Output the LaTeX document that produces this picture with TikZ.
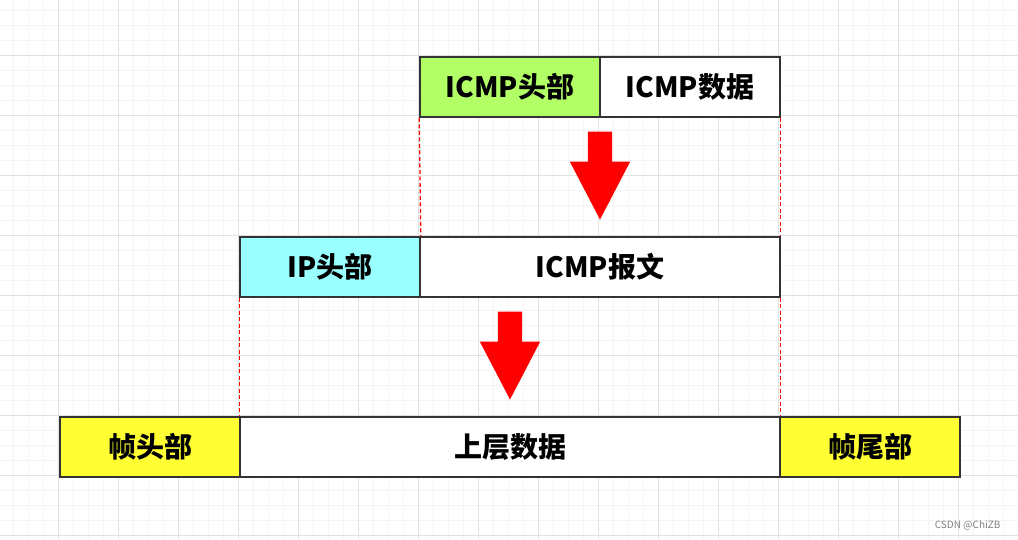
\documentclass[tikz,border=0pt]{standalone}
\usepackage{fontspec}
\usepackage{tikz}
\usepackage{xcolor}
\usetikzlibrary{shapes.arrows, positioning}
\setmainfont{Noto Sans CJK SC}
\definecolor{cBorder}{RGB}{51,51,51}
\definecolor{cGreen}{RGB}{179,255,102}
\definecolor{cCyan}{RGB}{153,255,255}
\definecolor{cYellow}{RGB}{255,255,51}
\definecolor{cGridMajor}{RGB}{226,226,226}
\definecolor{cGridMinor}{RGB}{245,245,245}
\tikzset{
	seg/.style     ={rectangle, draw=cBorder, line width=1.6pt, minimum height=60pt, inner sep=0pt, align=center, fill=white, font=\fontsize{28}{30}\selectfont\bfseries},
	bigarrow/.style={single arrow, fill=red, draw=none, rotate=-90, anchor=tip, minimum width=60pt, minimum height=88pt, single arrow head extend=18pt, single arrow tip angle=55, inner xsep=0pt, inner ysep=12pt},
	guide/.style   ={red, line width=1.3pt, dash pattern=on 4pt off 2.5pt},
}

\begin{document}
\begin{tikzpicture}[x=1pt, y=-1pt]
	\useasboundingbox (0,0) rectangle (1018,539);
	% background grid
	\foreach \x in {13.3,28.3,...,1018} \draw[cGridMinor, line width=0.8pt] (\x,0) -- (\x,539);
	\foreach \y in {10,25,...,539} \draw[cGridMinor, line width=0.8pt] (0,\y) -- (1018,\y);
	\foreach \x in {58.3,118.3,...,1018} \draw[cGridMajor, line width=0.8pt] (\x,0) -- (\x,539);
	\foreach \y in {55,115,...,539} \draw[cGridMajor, line width=0.8pt] (0,\y) -- (1018,\y);
	% ICMP
	\node[seg, fill=cGreen, minimum width=180pt] (icmphd) at (510,87) {ICMP头部};
	\node[seg, minimum width=180pt] (icmpdata) at (690,87) {ICMP数据};
	% IP
	\node[seg, fill=cCyan, minimum width=180pt] (iphd) at (330,267) {IP头部};
	\node[seg, minimum width=360pt] (icmpmsg) at (600,267) {ICMP报文};
	% frame
	\node[seg, fill=cYellow, minimum width=180pt] (framehd) at (150,447) {帧头部};
	\node[seg, minimum width=540pt] (upper) at (510,447) {上层数据};
	\node[seg, fill=cYellow, minimum width=180pt] (frametl) at (870,447) {帧尾部};
	% arrows
	\node[bigarrow] (arrA) at (600,220) {};
	\node[bigarrow] (arrB) at (510,400) {};
	\draw[guide] (icmphd.south west) -- (iphd.north east);
	\draw[guide] (icmpdata.south east) -- (icmpmsg.north east);
	\draw[guide] (iphd.south west) -- (upper.north west);
	\draw[guide] (icmpmsg.south east) -- (upper.north east);
	\node[text=gray, font=\fontsize{10}{11}\selectfont, anchor=east] (mark) at (1004,525) {CSDN @ChiZB};
\end{tikzpicture}
\end{document}
